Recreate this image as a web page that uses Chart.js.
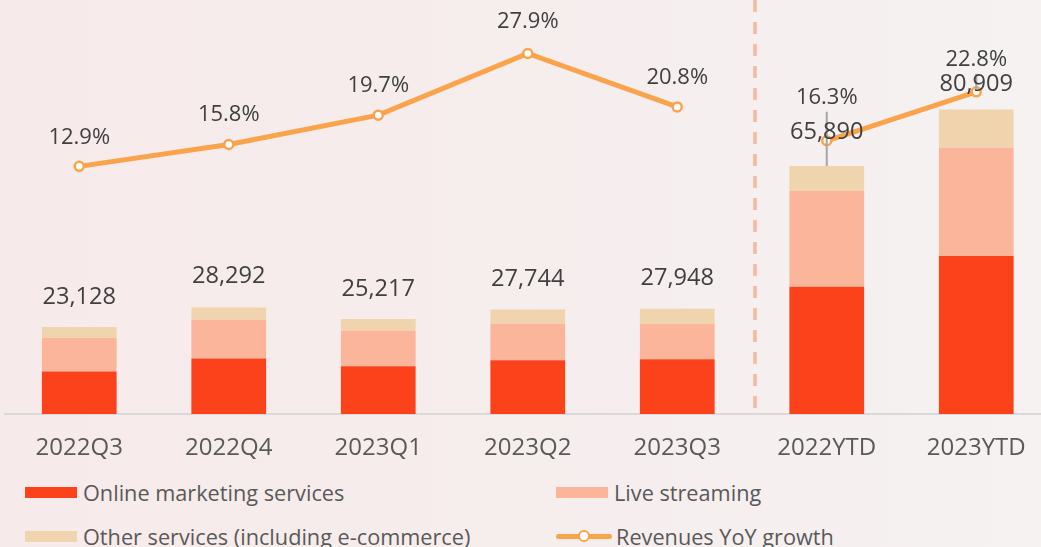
<!DOCTYPE html>
<html lang="en">
<head>
    <meta charset="UTF-8">
    <title>Revenue mix and YoY growth</title>
    <script src="https://cdn.jsdelivr.net/npm/chart.js"></script>
    <style>
        html, body {
            margin: 0;
            padding: 0;
            width: 1041px;
            height: 547px;
            overflow: hidden;
        }

        body {
            position: relative;
            background: linear-gradient(90deg, #f7eaea 0%, #f6eded 50%, #f5f2f1 100%);
            font-family: 'Open Sans', sans-serif;
        }

        .chart-box {
            position: absolute;
            left: 0;
            top: 0;
            width: 1051px;
            height: 470px;
        }

        #legend {
            position: absolute;
            left: 25px;
            top: 470px;
            display: grid;
            grid-template-columns: 531px 400px;
            grid-auto-rows: 44px;
            align-items: center;
        }

        .legend-item {
            display: flex;
            align-items: center;
            font-size: 21.7px;
            color: #595959;
            white-space: nowrap;
        }

        .swatch {
            display: inline-block;
            width: 52px;
            height: 11px;
            margin-right: 6px;
        }

        .swatch-line {
            position: relative;
            display: inline-block;
            width: 56px;
            height: 12px;
            margin-right: 4px;
        }

        .swatch-line .bar {
            position: absolute;
            left: 0;
            right: 0;
            top: 3.5px;
            height: 5px;
            border-radius: 3px;
        }

        .swatch-line .dot {
            position: absolute;
            left: 22px;
            top: 0;
            width: 8px;
            height: 8px;
            border-radius: 50%;
            background: #fff;
            border-width: 2px;
            border-style: solid;
        }
    </style>
</head>
<body>
    <div class="chart-box">
        <canvas id="revChart" width="1051" height="470"></canvas>
    </div>
    <div id="legend"></div>
    <script>
        // RMB million
        const categories = ['2022Q3', '2022Q4', '2023Q1', '2023Q2', '2023Q3', '2022YTD', '2023YTD'];
        const onlineMarketing = [11315, 14767, 12700, 14279, 14532, 33820, 42000];
        const liveStreaming = [8937, 10279, 9470, 9749, 9418, 25420, 28800];
        const otherServices = [2876, 3246, 3047, 3716, 3998, 6650, 10109];
        const totalRevenue = [23128, 28292, 25217, 27744, 27948, 65890, 80909];
        const yoyGrowth = [12.9, 15.8, 19.7, 27.9, 20.8, 16.3, 22.8];

        const RED = '#fb421a';
        const PINK = '#fbb59b';
        const BEIGE = '#f0d4ad';
        const ORANGE = '#f9a44c';

        // vertical lift of the labels above bar tops / points
        const totalLift = [30, 31, 30, 30, 31, 34, 25];
        const pctLift = [29, 30, 29, 32, 29, 43, 32];

        const fmt = new Intl.NumberFormat('en-US');

        const dividerPlugin = {
            id: 'divider',
            beforeDatasetsDraw(chart) {
                const x = chart.scales.x;
                const px = (x.getPixelForValue(4) + x.getPixelForValue(5)) / 2 + 3;
                const ctx = chart.ctx;
                ctx.save();
                ctx.strokeStyle = '#f9b89f';
                ctx.lineWidth = 3.5;
                ctx.setLineDash([12, 10]);
                ctx.beginPath();
                ctx.moveTo(px, 0);
                ctx.lineTo(px, chart.chartArea.bottom - 4);
                ctx.stroke();
                ctx.restore();
            }
        };

        const labelsPlugin = {
            id: 'valueLabels',
            afterDatasetsDraw(chart) {
                const ctx = chart.ctx;
                const x = chart.scales.x;
                const y = chart.scales.y;
                const y1 = chart.scales.y1;
                ctx.save();
                ctx.textAlign = 'center';
                ctx.textBaseline = 'middle';
                ctx.fillStyle = '#404040';

                // leader lines for the YTD labels
                ctx.strokeStyle = '#a6a6a6';
                ctx.lineWidth = 2;
                [5, 6].forEach(i => {
                    const px = x.getPixelForValue(i);
                    const py = y1.getPixelForValue(yoyGrowth[i]);
                    const top = py - pctLift[i] + 14;
                    const end = i === 5 ? y.getPixelForValue(totalRevenue[i]) : py - 3;
                    ctx.beginPath();
                    ctx.moveTo(px, top);
                    ctx.lineTo(px, end);
                    ctx.stroke();
                });

                ctx.font = '23.6px "Open Sans"';
                categories.forEach((c, i) => {
                    const px = x.getPixelForValue(i);
                    const py = y.getPixelForValue(totalRevenue[i]);
                    ctx.fillText(fmt.format(totalRevenue[i]), px, py - totalLift[i]);
                });

                ctx.font = '22px "Open Sans"';
                categories.forEach((c, i) => {
                    const px = x.getPixelForValue(i);
                    const py = y1.getPixelForValue(yoyGrowth[i]);
                    ctx.fillText(yoyGrowth[i].toFixed(1) + '%', px, py - pctLift[i]);
                });
                ctx.restore();
            }
        };

        const ctx = document.getElementById('revChart').getContext('2d');
        const chart = new Chart(ctx, {
            type: 'bar',
            data: {
                labels: categories,
                datasets: [
                    {
                        type: 'line',
                        label: 'Revenues YoY growth',
                        data: yoyGrowth,
                        yAxisID: 'y1',
                        order: 0,
                        borderColor: ORANGE,
                        borderWidth: 5,
                        pointRadius: 4.5,
                        pointBorderWidth: 2.5,
                        pointBackgroundColor: '#ffffff',
                        pointBorderColor: ORANGE,
                        segment: {
                            // no line across the quarter / YTD divide
                            borderColor: c => c.p0DataIndex === 4 ? 'rgba(0,0,0,0)' : ORANGE
                        }
                    },
                    {
                        label: 'Online marketing services',
                        data: onlineMarketing,
                        backgroundColor: RED,
                        order: 1
                    },
                    {
                        label: 'Live streaming',
                        data: liveStreaming,
                        backgroundColor: PINK,
                        order: 1
                    },
                    {
                        label: 'Other services (including e-commerce)',
                        data: otherServices,
                        backgroundColor: BEIGE,
                        order: 1
                    }
                ]
            },
            options: {
                responsive: false,
                animation: false,
                layout: {
                    autoPadding: false,
                    padding: { left: 4.5, right: 0, top: 0, bottom: 0 }
                },
                datasets: {
                    bar: {
                        categoryPercentage: 1,
                        barPercentage: 0.5
                    }
                },
                scales: {
                    x: {
                        stacked: true,
                        grid: { display: false },
                        border: { display: true, color: '#d9d9d9', width: 2 },
                        ticks: {
                            color: '#595959',
                            font: { family: 'Open Sans', size: 24 },
                            padding: 12
                        },
                        afterFit(scale) {
                            scale.height = 56;
                        }
                    },
                    y: {
                        stacked: true,
                        display: false,
                        min: 0,
                        max: 110000
                    },
                    y1: {
                        display: false,
                        position: 'right',
                        min: -20,
                        max: 35
                    }
                },
                plugins: {
                    legend: { display: false },
                    tooltip: { enabled: false }
                }
            },
            plugins: [dividerPlugin, labelsPlugin]
        });

        // legend laid out in two columns under the chart
        const legendOrder = [1, 2, 3, 0];
        const legendEl = document.getElementById('legend');
        legendOrder.forEach(i => {
            const ds = chart.data.datasets[i];
            const item = document.createElement('div');
            item.className = 'legend-item';
            if (ds.type === 'line') {
                const sw = document.createElement('span');
                sw.className = 'swatch-line';
                const bar = document.createElement('span');
                bar.className = 'bar';
                bar.style.background = ds.borderColor;
                const dot = document.createElement('span');
                dot.className = 'dot';
                dot.style.borderColor = ds.borderColor;
                sw.appendChild(bar);
                sw.appendChild(dot);
                item.appendChild(sw);
            } else {
                const sw = document.createElement('span');
                sw.className = 'swatch';
                sw.style.background = ds.backgroundColor;
                item.appendChild(sw);
            }
            const txt = document.createElement('span');
            txt.textContent = ds.label;
            item.appendChild(txt);
            legendEl.appendChild(item);
        });
    </script>
</body>
</html>
